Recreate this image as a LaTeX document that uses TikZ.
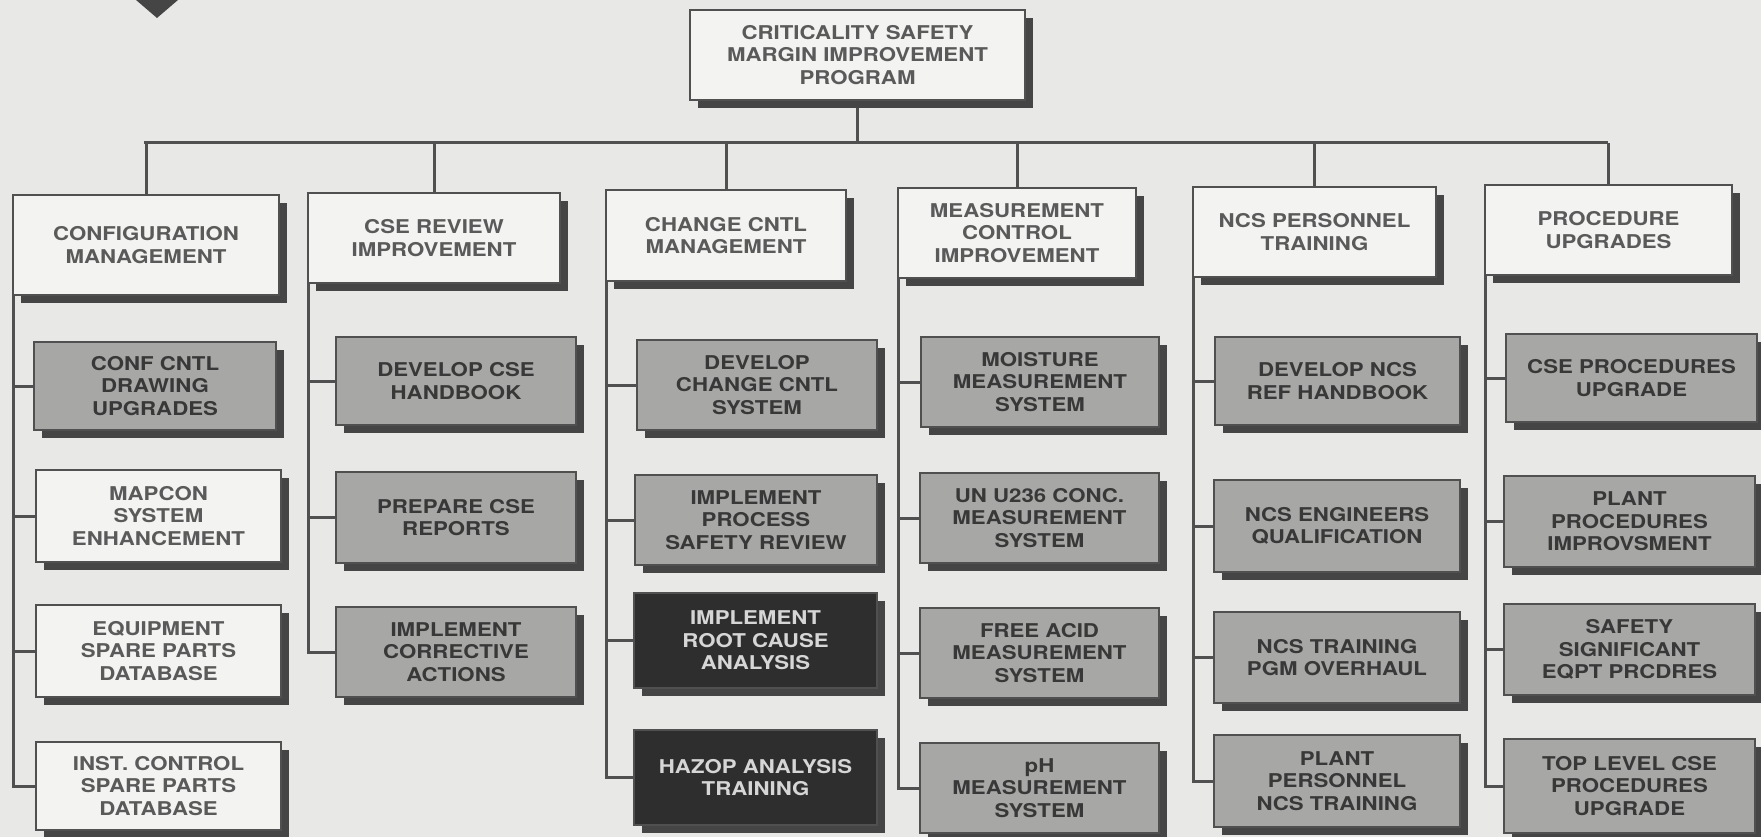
\documentclass[tikz,border=0pt]{standalone}
\usepackage{fontspec}
\setmainfont{TeX Gyre Heros}[FakeStretch=1.17]
\usetikzlibrary{shadows}
\definecolor{bgc}{HTML}{E8E8E6}
\definecolor{wfill}{HTML}{F3F3F1}
\definecolor{gfill}{HTML}{A7A7A5}
\definecolor{dfill}{HTML}{2E2E2E}
\definecolor{linec}{HTML}{505050}
\definecolor{shadc}{HTML}{454545}
\definecolor{wtext}{HTML}{5A5A5A}
\definecolor{gtext}{HTML}{383838}
\definecolor{dtext}{HTML}{D6D6D6}
\pgfdeclarelayer{bg}\pgfdeclarelayer{lines}
\pgfsetlayers{bg,lines,main}
\newcommand{\bx}[7]{\node[#2, minimum width={(#5-#3)*1pt}, minimum height={(#6-#4)*1pt}] (#1) at ({(#3+#5)/2},{(#4+#6)/2}) {#7};}
\begin{document}
\begin{tikzpicture}[x=1pt,y=-1pt,
  basebox/.style={draw=linec, line width=2.5pt, inner sep=0pt, align=center,
    font=\fontsize{19}{22.5}\selectfont\bfseries,
    drop shadow={shadow xshift=8pt, shadow yshift=-8pt, fill=shadc, opacity=1}},
  wbox/.style={basebox, fill=wfill, text=wtext},
  gbox/.style={basebox, fill=gfill, text=gtext},
  dbox/.style={basebox, fill=dfill, text=dtext},
  conn/.style={draw=linec, line width=3pt}]
\begin{pgfonlayer}{bg}
\fill[bgc] (0,0) rectangle (1761,837);
\end{pgfonlayer}
\useasboundingbox (0,0) rectangle (1761,837);
\fill[shadc] (136,0) -- (157,18) -- (178,0) -- cycle;

\bx{top}{wbox}{690}{10}{1025}{100}{CRITICALITY SAFETY\\MARGIN IMPROVEMENT\\PROGRAM}

\bx{A}{wbox}{13}{195}{279}{295}{CONFIGURATION\\MANAGEMENT}
\bx{B}{wbox}{308}{193}{560}{283}{CSE REVIEW\\IMPROVEMENT}
\bx{C}{wbox}{606}{190}{846}{281}{CHANGE CNTL\\MANAGEMENT}
\bx{D}{wbox}{898}{188}{1136}{278}{MEASUREMENT\\CONTROL\\IMPROVEMENT}
\bx{E}{wbox}{1193}{187}{1436}{277}{NCS PERSONNEL\\TRAINING}
\bx{F}{wbox}{1485}{185}{1732}{275}{PROCEDURE\\UPGRADES}

\bx{A1}{gbox}{34}{342}{276}{430}{CONF CNTL\\DRAWING\\UPGRADES}
\bx{A2}{wbox}{36}{470}{281}{562}{MAPCON\\SYSTEM\\ENHANCEMENT}
\bx{A3}{wbox}{36}{605}{281}{697}{EQUIPMENT\\SPARE PARTS\\DATABASE}
\bx{A4}{wbox}{36}{742}{281}{830}{INST. CONTROL\\SPARE PARTS\\DATABASE}

\bx{B1}{gbox}{336}{337}{576}{425}{DEVELOP CSE\\HANDBOOK}
\bx{B2}{gbox}{336}{472}{576}{563}{PREPARE CSE\\REPORTS}
\bx{B3}{gbox}{336}{607}{576}{697}{IMPLEMENT\\CORRECTIVE\\ACTIONS}

\bx{C1}{gbox}{637}{340}{877}{430}{DEVELOP\\CHANGE CNTL\\SYSTEM}
\bx{C2}{gbox}{635}{475}{877}{565}{IMPLEMENT\\PROCESS\\SAFETY REVIEW}
\bx{C3}{dbox}{634}{593}{877}{688}{IMPLEMENT\\ROOT CAUSE\\ANALYSIS}
\bx{C4}{dbox}{634}{730}{877}{825}{HAZOP ANALYSIS\\TRAINING}

\bx{D1}{gbox}{921}{337}{1159}{427}{MOISTURE\\MEASUREMENT\\SYSTEM}
\bx{D2}{gbox}{920}{473}{1159}{563}{UN U236 CONC.\\MEASUREMENT\\SYSTEM}
\bx{D3}{gbox}{920}{608}{1159}{698}{FREE ACID\\MEASUREMENT\\SYSTEM}
\bx{D4}{gbox}{920}{743}{1159}{833}{pH\\MEASUREMENT\\SYSTEM}

\bx{E1}{gbox}{1215}{337}{1460}{425}{DEVELOP NCS\\REF HANDBOOK}
\bx{E2}{gbox}{1214}{480}{1460}{572}{NCS ENGINEERS\\QUALIFICATION}
\bx{E3}{gbox}{1214}{612}{1460}{703}{NCS TRAINING\\PGM OVERHAUL}
\bx{E4}{gbox}{1214}{735}{1460}{827}{PLANT\\PERSONNEL\\NCS TRAINING}

\bx{F1}{gbox}{1506}{334}{1757}{422}{CSE PROCEDURES\\UPGRADE}
\bx{F2}{gbox}{1504}{476}{1755}{567}{PLANT\\PROCEDURES\\IMPROVSMENT}
\bx{F3}{gbox}{1504}{604}{1755}{695}{SAFETY\\SIGNIFICANT\\EQPT PRCDRES}
\bx{F4}{gbox}{1504}{739}{1755}{833}{TOP LEVEL CSE\\PROCEDURES\\UPGRADE}

\coordinate (busL) at (144,143);
\coordinate (busR) at (1608,143);
\begin{pgfonlayer}{lines}
\draw[conn] (busL) -- (busR);
\draw[conn] (top.south) -- (top.south |- busL);
\foreach \p in {A,B,C,D,E,F}{
  \draw[conn] (\p.north) -- (\p.north |- busL);
}
\foreach \p/\n in {A/4,B/3,C/4,D/4,E/4,F/4}{
  \draw[conn] ([xshift=2pt]\p.south west) |- (\p\n.west);
  \foreach \k in {1,...,\n}{
    \draw[conn] ([xshift=2pt]\p.south west |- \p\k.west) -- (\p\k.west);
  }
}
\end{pgfonlayer}
\end{tikzpicture}
\end{document}
